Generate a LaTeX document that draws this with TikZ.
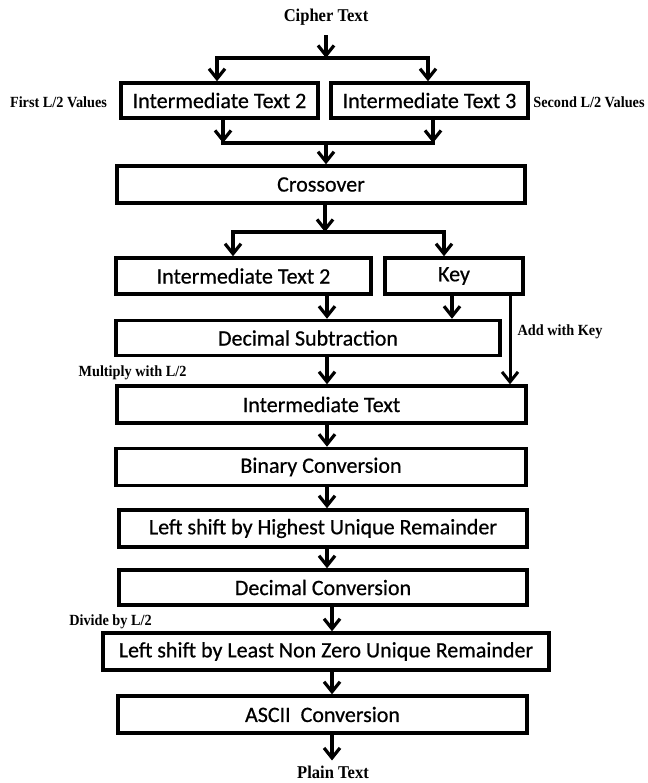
\documentclass[tikz,border=0pt]{standalone}
\usepackage{fontspec}
\setmainfont[FakeBold=0.6]{Carlito}
\newfontfamily\lblfont[FakeStretch=0.92]{Liberation Serif}
\usetikzlibrary{arrows.meta}
\begin{document}
\begin{tikzpicture}[x=1pt,y=-1pt,
  box/.style={draw, line width=3.4pt, inner sep=0pt, font=\fontsize{22}{24}\selectfont},
  lbl/.style={inner sep=0pt, font=\lblfont\bfseries\fontsize{15.5}{17}\selectfont},
  ttl/.style={inner sep=0pt, font=\lblfont\bfseries\fontsize{18}{20}\selectfont},
  arr/.style={line width=3.2pt, -{Straight Barb[length=10pt,width=16pt]}},
  ln/.style={line width=3.2pt, line cap=rect}]
\useasboundingbox (0,0) rectangle (647,783);
% titles and labels
\node[ttl] (cipher) at (326,17) {Cipher Text};
\node[ttl] (plain) at (333,772) {Plain Text};
\node[lbl] (first) at (58.5,102) {First L/2 Values};
\node[lbl] (second) at (589,102) {Second L/2 Values};
\node[lbl] (addkey) at (560,332) {Add with Key};
\node[lbl] (mult) at (132.5,373) {Multiply with L/2};
\node[lbl] (divide) at (110.5,622) {Divide by L/2};
% boxes
\node[box, minimum width=197pt, minimum height=35pt] (it2a) at (219.5,100.5) {Intermediate Text 2};
\node[box, minimum width=197pt, minimum height=35pt] (it3) at (429.5,100.5) {Intermediate Text 3};
\node[box, minimum width=408pt, minimum height=37pt] (cross) at (321,184.5) {Crossover};
\node[box, minimum width=255pt, minimum height=36pt] (it2b) at (243.5,276) {Intermediate Text 2};
\node[box, minimum width=138pt, minimum height=36pt] (key) at (454,276) {Key};
\node[box, minimum width=384pt, minimum height=35pt] (dsub) at (308,338) {Decimal Subtraction};
\node[box, minimum width=409pt, minimum height=37pt] (itx) at (321.5,404.5) {Intermediate Text};
\node[box, minimum width=410pt, minimum height=37pt] (bin) at (321,467) {Binary Conversion};
\node[box, minimum width=408pt, minimum height=37pt] (lsh) at (323,528.5) {Left shift by Highest Unique Remainder};
\node[box, minimum width=408pt, minimum height=35pt] (dec) at (323,587.5) {Decimal Conversion};
\node[box, minimum width=446pt, minimum height=37pt] (lsl) at (326,651.5) {Left shift by Least Non Zero Unique Remainder};
\node[box, minimum width=409pt, minimum height=37pt] (ascii) at (322.5,714.5) {ASCII\ \ Conversion};
% junction coordinates
\coordinate (j1) at (326,58);
\coordinate (j1L) at (217,58);
\coordinate (j1R) at (428,58);
\coordinate (j2) at (326,143);
\coordinate (j2L) at (223,143);
\coordinate (j2R) at (433,143);
\coordinate (j3) at (325,232);
\coordinate (j3L) at (233,232);
\coordinate (j3R) at (444,232);
\coordinate (kx) at (452,0);
\coordinate (ky) at (510,0);
\coordinate (cx) at (327,0);
\coordinate (cx2) at (332,0);
% top split
\draw[arr, shorten <=10pt] (cipher.south) -- (j1);
\draw[ln] (j1L) -- (j1R);
\draw[arr] (j1L) -- (j1L |- it2a.north);
\draw[arr] (j1R) -- (j1R |- it3.north);
% merge
\draw[arr] (it2a.south -| j2L) -- (j2L);
\draw[arr] (it3.south -| j2R) -- (j2R);
\draw[ln] (j2L) -- (j2R);
\draw[arr] (j2) -- (j2 |- cross.north);
% second split
\draw[arr] (cross.south -| j3) -- (j3);
\draw[ln] (j3L) -- (j3R);
\draw[arr] (j3L) -- (j3L |- it2b.north);
\draw[arr] (j3R) -- (j3R |- key.north);
% to decimal subtraction
\draw[arr] (it2b.south -| cx) -- (dsub.north -| cx);
\draw[arr] (key.south -| kx) -- (dsub.north -| kx);
\draw[line width=3pt, -{Straight Barb[length=10pt,width=16pt]}] (key.south -| ky) -- (itx.north -| ky);
\draw[arr] (dsub.south -| cx) -- (itx.north -| cx);
% chain
\draw[arr] (itx.south -| cx) -- (bin.north -| cx);
\draw[arr] (bin.south -| cx) -- (lsh.north -| cx);
\draw[arr] (lsh.south -| cx) -- (dec.north -| cx);
\draw[arr] (dec.south -| cx2) -- (lsl.north -| cx2);
\draw[arr] (lsl.south -| cx2) -- (ascii.north -| cx2);
\draw[arr, shorten >=5pt] (ascii.south -| cx2) -- (plain.north -| cx2);
\end{tikzpicture}
\end{document}
